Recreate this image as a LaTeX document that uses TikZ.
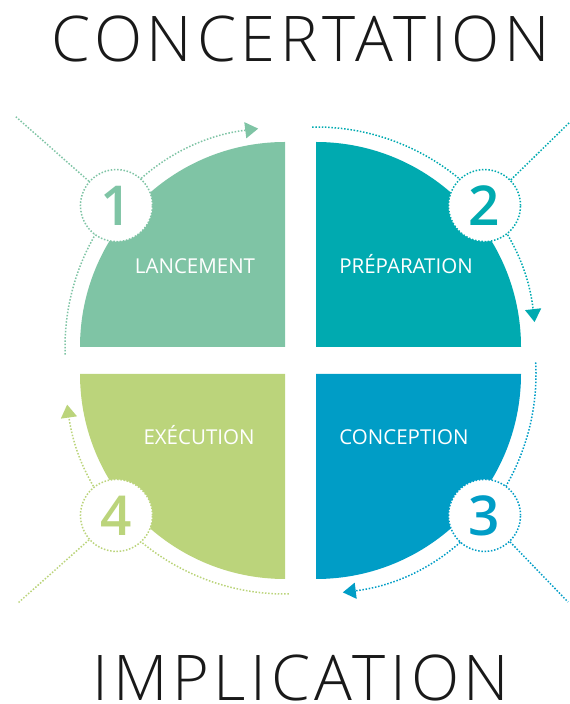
\documentclass[tikz,border=0pt]{standalone}
\usepackage{fontspec}
\setmainfont{Open Sans}
\newfontfamily\lightfont{Open Sans Light}[LetterSpace=7.4]
\newfontfamily\numfont{Open Sans Semibold}
\usetikzlibrary{arrows.meta,calc,positioning}

\definecolor{lancement}{RGB}{127,196,165}
\definecolor{preparation}{RGB}{0,170,176}
\definecolor{conception}{RGB}{0,157,198}
\definecolor{execution}{RGB}{187,212,123}

\tikzset{
  dotline/.style={line width=1.5pt, dash pattern=on 1.5pt off 1.7pt},
  loop arrow/.style={dotline, -{Triangle[length=13pt,width=16pt]}},
  numcirc/.style={circle, fill=white, dotline, minimum size=72pt, inner sep=0pt,
                  font=\numfont\fontsize{55}{55}\selectfont},
  phase/.style={text=white, anchor=base, font=\fontsize{20.5}{24}\selectfont},
  title/.style={anchor=base, text=black!90, font=\lightfont\fontsize{63}{63}\selectfont}
}

\begin{document}
\begin{tikzpicture}[x=1pt,y=1pt]
  \useasboundingbox (0,0) rectangle (570,704);

  % corners of the four quarters
  \coordinate (q1) at (285,357);
  \coordinate (q2) at (316,357);
  \coordinate (q3) at (316,330);
  \coordinate (q4) at (285,330);

  \fill[lancement]   (q1) -- ++(180:205) arc[start angle=180, end angle=90,  radius=205] -- cycle;
  \fill[preparation] (q2) -- ++(90:205)  arc[start angle=90,  end angle=0,   radius=205] -- cycle;
  \fill[conception]  (q3) -- ++(0:205)   arc[start angle=0,   end angle=-90, radius=205] -- cycle;
  \fill[execution]   (q4) -- ++(-90:205) arc[start angle=270, end angle=180, radius=205] -- cycle;

  \node[phase] (l1) at (195,430) {LANCEMENT};
  \node[phase] (l2) at (406,430) {PRÉPARATION};
  \node[phase] (l3) at (404,259) {CONCEPTION};
  \node[phase] (l4) at (199,259) {EXÉCUTION};

  % dotted cycle arrows round the disc
  \draw[loop arrow, lancement]   ($(q1)+(182:220)$) arc[start angle=182, end angle=97,  radius=220];
  \draw[loop arrow, preparation] ($(q2)+(91:220)$)  arc[start angle=91,  end angle=6.5, radius=220];
  \draw[loop arrow, conception]  ($(q3)+(3:220)$)   arc[start angle=3,   end angle=-83, radius=220];
  \draw[loop arrow, execution]   ($(q4)+(271:220)$) arc[start angle=271, end angle=188, radius=220];

  % outer ends of the spokes
  \coordinate (e1) at (15,588);
  \coordinate (e2) at (570,582);
  \coordinate (e3) at (568,102);
  \coordinate (e4) at (18,101);

  \node[numcirc, draw=lancement,   text=lancement]   (n1) at ($(q1)+(140:220)$) {1};
  \node[numcirc, draw=preparation, text=preparation] (n2) at ($(q2)+(40:220)$)  {2};
  \node[numcirc, draw=conception,  text=conception]  (n3) at ($(q3)+(-40:220)$) {3};
  \node[numcirc, draw=execution,   text=execution]   (n4) at ($(q4)+(220:220)$) {4};

  \draw[dotline, lancement]   (n1) -- (e1);
  \draw[dotline, preparation] (n2) -- (e2);
  \draw[dotline, conception]  (n3) -- (e3);
  \draw[dotline, execution]   (n4) -- (e4);

  \node[title] (top)    at (301,642) {CONCERTATION};
  \node[title] (bottom) at (301,3)   {IMPLICATION};
\end{tikzpicture}
\end{document}
